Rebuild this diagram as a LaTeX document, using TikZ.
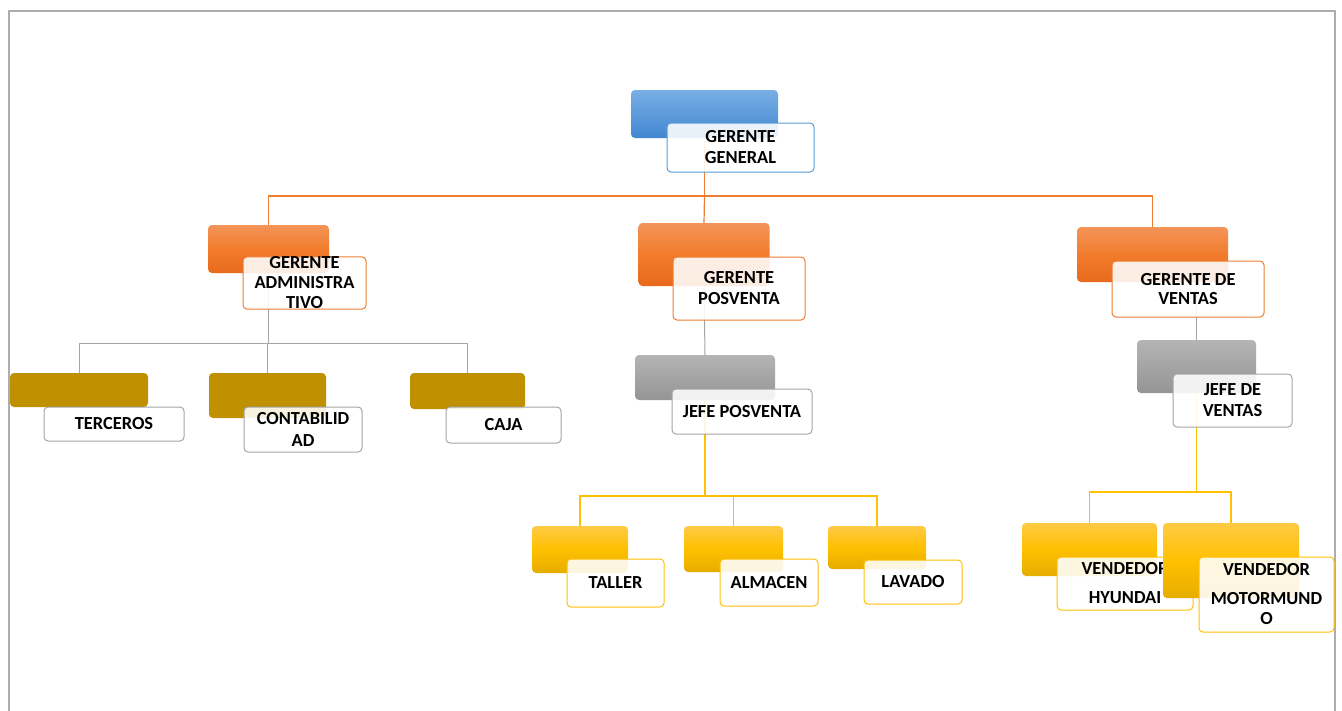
\documentclass[tikz,border=0pt]{standalone}
\usepackage{fontspec}
\setmainfont{Carlito}
\usetikzlibrary{backgrounds}
\definecolor{bluetop}{HTML}{78AFE4}
\definecolor{bluebot}{HTML}{4387D2}
\definecolor{blueline}{HTML}{5B9BD5}
\definecolor{orgtop}{HTML}{F39459}
\definecolor{orgmid}{HTML}{F27C2C}
\definecolor{orgbot}{HTML}{E8691B}
\definecolor{orgline}{HTML}{ED7D31}
\definecolor{grytop}{HTML}{B4B4B4}
\definecolor{grybot}{HTML}{959595}
\definecolor{gryline}{HTML}{A5A5A5}
\definecolor{goldfill}{HTML}{BF9000}
\definecolor{yeltop}{HTML}{FFCA45}
\definecolor{yelmid}{HTML}{FFC000}
\definecolor{yelbot}{HTML}{E6AD00}
\definecolor{yelline}{HTML}{FFC000}
\definecolor{framecol}{HTML}{ADADAD}
\newcommand{\lblfont}{\fontsize{18.4}{21}\selectfont\bfseries}
\begin{document}
\begin{tikzpicture}[x=1pt,y=-1pt,
  bk/.style={rounded corners=4pt, inner sep=0pt, outer sep=0pt, draw=none},
  bkB/.style={bk, top color=bluetop, bottom color=bluebot},
  bkO/.style={bk, top color=orgtop, bottom color=orgbot, middle color=orgmid},
  bkG/.style={bk, top color=grytop, bottom color=grybot},
  bkD/.style={bk, fill=goldfill},
  bkY/.style={bk, top color=yeltop, bottom color=yelbot, middle color=yelmid},
  fr/.style={draw, rounded corners=4pt, fill=white, fill opacity=0.88, text opacity=1,
    line width=1pt, inner sep=0pt, outer sep=0pt, align=center, font=\lblfont, text=black},
  conO/.style={draw=orgline, line width=1.2pt},
  conG/.style={draw=gryline, line width=1pt},
  conY/.style={draw=yelline, line width=1.2pt}]
\useasboundingbox (0,0) rectangle (1342,710);
\draw[framecol, line width=1.5pt] (9,730) -- (9,11) -- (1335,11) -- (1335,730);

% units: back rectangle, then front box
\node[bkB, minimum width=147pt, minimum height=48pt] (GGb) at (704.5,114) {};
\node[fr, draw=blueline, minimum width=147pt, minimum height=49pt] (GG) at (740.5,147.5) {GERENTE\\GENERAL};

\node[bkO, minimum width=121pt, minimum height=48pt] (ADb) at (268.5,249) {};
\node[fr, draw=orgline, minimum width=123pt, minimum height=48pt] (AD) at (304.5,283) {GERENTE\\[-1pt]ADMINISTRA\\[-1pt]TIVO};

\node[bkO, minimum width=131pt, minimum height=63pt] (GPb) at (704,254.5) {};
\node[fr, draw=orgline, minimum width=132pt, minimum height=63pt] (GP) at (739,288.5) {GERENTE\\POSVENTA};

\node[bkO, minimum width=151pt, minimum height=55pt] (GVb) at (1152.5,254.5) {};
\node[fr, draw=orgline, minimum width=152pt, minimum height=56pt] (GV) at (1188,289) {GERENTE DE\\[-2pt]VENTAS};

\node[bkG, minimum width=140pt, minimum height=45pt] (JPb) at (705,377.5) {};
\node[fr, draw=gryline, minimum width=140pt, minimum height=45pt] (JP) at (742,411.5) {JEFE POSVENTA};

\node[bkG, minimum width=119pt, minimum height=53pt] (JVb) at (1196.5,366.5) {};
\node[fr, draw=gryline, minimum width=119pt, minimum height=53pt] (JV) at (1232.5,400.5) {JEFE DE\\VENTAS};

\node[bkD, minimum width=138pt, minimum height=34pt] (TEb) at (79,390) {};
\node[fr, draw=gryline, minimum width=140pt, minimum height=34pt] (TE) at (114,424) {TERCEROS};

\node[bkD, minimum width=117pt, minimum height=45pt] (COb) at (267.5,395.5) {};
\node[fr, draw=gryline, minimum width=118pt, minimum height=45pt] (CO) at (303,429.5) {CONTABILID\\[1pt]AD};

\node[bkD, minimum width=115pt, minimum height=36pt] (CAb) at (467.5,391) {};
\node[fr, draw=gryline, minimum width=115pt, minimum height=36pt] (CA) at (503.5,425) {CAJA};

\node[bkY, minimum width=96pt, minimum height=47pt] (TAb) at (580,549.5) {};
\node[fr, draw=yelline, minimum width=97pt, minimum height=48pt] (TA) at (615.5,583) {TALLER};

\node[bkY, minimum width=99pt, minimum height=46pt] (ALb) at (733.5,549) {};
\node[fr, draw=yelline, minimum width=98pt, minimum height=47pt] (AL) at (769,582.5) {ALMACEN};

\node[bkY, minimum width=98pt, minimum height=43pt] (LAb) at (877,547.5) {};
\node[fr, draw=yelline, minimum width=98pt, minimum height=44pt] (LA) at (913,582) {LAVADO};

\node[bkY, minimum width=135pt, minimum height=53pt] (VHb) at (1089.5,549.5) {};
\node[fr, draw=yelline, minimum width=136pt, minimum height=53pt] (VH) at (1125,583.5) {VENDEDOR\\[8pt]HYUNDAI};

\node[bkY, minimum width=136pt, minimum height=75pt] (VMb) at (1231,560.5) {};
\node[fr, draw=yelline, minimum width=135pt, minimum height=75pt] (VM) at (1266.5,594.5) {VENDEDOR\\[8pt]MOTORMUND\\[-1pt]O};

% connectors, behind all boxes
\begin{pgfonlayer}{background}
\coordinate (bus1) at (704.5,196);
\draw[conO] (GGb.south) -- (bus1) -| (ADb.north);
\draw[conO] (bus1) -- (GPb.north);
\draw[conO] (bus1) -| (GVb.north);
\coordinate (bus2) at (268.5,343);
\draw[conG] (ADb.south) -- (bus2) -| (TEb.north);
\draw[conG] (bus2) -| (COb.north);
\draw[conG] (bus2) -| (CAb.north);
\draw[conG] (GPb.south) -- (JPb.north);
\coordinate (bus3) at (705,496);
\draw[conY] (JPb.south) -- (bus3) -| (TAb.north);
\draw[conY] (bus3) -| (ALb.north);
\draw[conY] (bus3) -| (LAb.north);
\draw[conG] (JVb.north) -- (JVb.north |- GVb.south);
\coordinate (bus4) at (1196.5,492);
\draw[conY] (JVb.south) -- (bus4) -| (VHb.north);
\draw[conY] (bus4) -| (VMb.north);
\end{pgfonlayer}
\end{tikzpicture}
\end{document}
